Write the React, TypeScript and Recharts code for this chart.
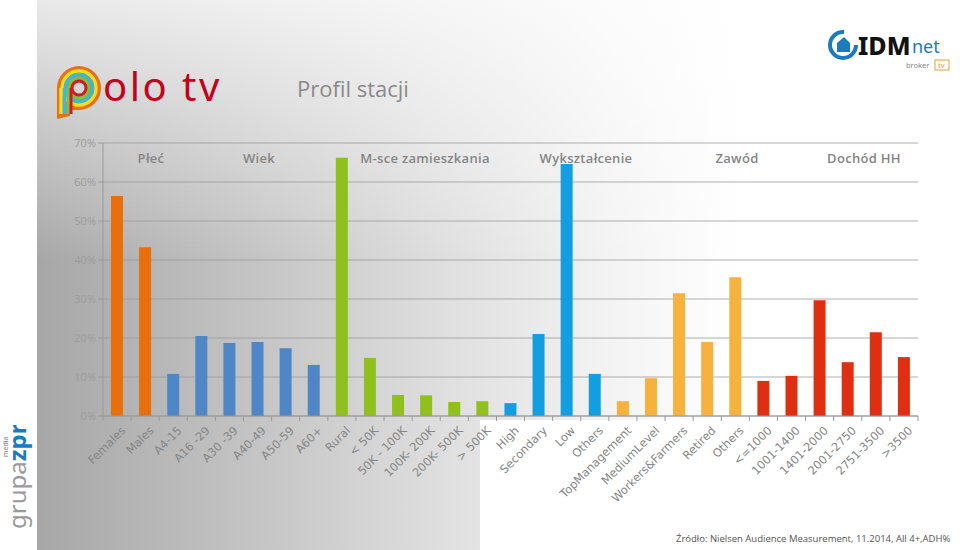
import React from "react";
import { BarChart, Bar, XAxis, YAxis, CartesianGrid, Cell } from "recharts";

// categories along the axis, in order
const categories = [
  "Females", "Males",
  "A4-15", "A16 -29", "A30 -39", "A40-49", "A50-59", "A60+",
  "Rural", "< 50K", "50K - 100K", "100K- 200K", "200K- 500K", "> 500K",
  "High", "Secondary", "Low", "Others",
  "TopManagement", "MediumLevel", "Workers&Farmers", "Retired", "Others",
  "<=1000", "1001-1400", "1401-2000", "2001-2750", "2751-3500", ">3500",
];

// share of audience, %
const values = [
  56.4, 43.3,
  10.8, 20.5, 18.7, 19.0, 17.4, 13.1,
  66.2, 14.9, 5.4, 5.3, 3.6, 3.8,
  3.3, 21.0, 64.6, 10.8,
  3.8, 9.7, 31.5, 19.0, 35.6,
  9.0, 10.3, 29.7, 13.8, 21.5, 15.1,
];

// which group each category belongs to
const groupOf = [
  0, 0,
  1, 1, 1, 1, 1, 1,
  2, 2, 2, 2, 2, 2,
  3, 3, 3, 3,
  4, 4, 4, 4, 4,
  5, 5, 5, 5, 5, 5,
];

const groupNames = ["Płeć", "Wiek", "M-sce zamieszkania", "Wykształcenie", "Zawód", "Dochód HH"];
const groupColors = ["#e8700c", "#4f86c6", "#8fc01e", "#129fe2", "#f6b23c", "#e02f10"];
const groupLabelX = [151, 259, 425, 586, 737, 864];

const yTicks = [0, 10, 20, 30, 40, 50, 60, 70];

const data = categories.map((name, i) => ({ name, value: values[i], group: groupOf[i] }));

const FONT = "'Open Sans', 'DejaVu Sans', sans-serif";
const TICK_FONT = "'DejaVu Sans', sans-serif";
const STEP = 815 / categories.length;

function CategoryTick(props: any) {
  const { x, y, payload, index } = props;
  const axisY = y - 8;
  return (
    <g>
      <line x1={x - STEP / 2} x2={x - STEP / 2} y1={axisY} y2={axisY + 5} stroke="#9a9a9a" />
      {index === categories.length - 1 && (
        <line x1={x + STEP / 2} x2={x + STEP / 2} y1={axisY} y2={axisY + 5} stroke="#9a9a9a" />
      )}
      <text
        x={0}
        y={0}
        transform={`translate(${x + 3},${y + 1}) rotate(-45)`}
        textAnchor="end"
        dominantBaseline="hanging"
        fontSize={11.5}
        fontFamily={TICK_FONT}
        fill="#868686"
      >
        {payload.value}
      </text>
    </g>
  );
}

export default function App() {
  return (
    <div
      style={{
        position: "fixed",
        left: 0,
        top: 0,
        width: 960,
        height: 550,
        background: "#fff",
        overflow: "hidden",
        fontFamily: FONT,
      }}
    >
      {/* grey panel */}
      <div
        style={{
          position: "absolute",
          left: 37,
          top: 0,
          width: 923,
          height: 550,
          background:
            "linear-gradient(90deg, #a7a7a7 0%, #c2c2c2 22%, #dcdcdc 42%, #f3f3f3 62%, #ffffff 76%)",
        }}
      />
      <div
        style={{
          position: "absolute",
          left: 37,
          top: 0,
          width: 923,
          height: 260,
          background: "linear-gradient(180deg, rgba(255,255,255,0.75) 0%, rgba(255,255,255,0) 100%)",
        }}
      />
      <div style={{ position: "absolute", left: 480, top: 420, width: 480, height: 130, background: "#fff" }} />

      {/* polo tv logo */}
      <svg style={{ position: "absolute", left: 55, top: 54 }} width={200} height={72}>
        <g transform="translate(0,10)">
          <path d="M2 55 L2 24 A22 22 0 1 1 24 46 L15 46 L15 52 Z" fill="#e8701a" />
          <circle cx={24} cy={24} r={17} fill="none" stroke="#f2dd1e" strokeWidth={3.5} />
          <circle cx={24} cy={24} r={13.5} fill="none" stroke="#3cb8d8" strokeWidth={3.5} />
          <circle cx={24} cy={24} r={10} fill="none" stroke="#7cc242" strokeWidth={3} />
          <circle cx={24} cy={24} r={7} fill="#d6d6d6" stroke="#d01a2a" strokeWidth={3} />
          <path d="M6 50 L6 24" stroke="#f2dd1e" strokeWidth={3.5} />
          <path d="M9.5 50 L9.5 24" stroke="#3cb8d8" strokeWidth={3.5} />
          <path d="M13 50 L13 24" stroke="#7cc242" strokeWidth={3} />
          <path d="M16 50 L16 24" stroke="#d01a2a" strokeWidth={3} />
          <text x={48} y={37} fontSize={40} fontFamily="'Noto Sans', sans-serif" fill="#c4001c" letterSpacing={2.5}>
            olo tv
          </text>
        </g>
      </svg>
      <div style={{ position: "absolute", left: 297, top: 73, fontSize: 22, color: "#8a8a8a" }}>Profil stacji</div>

      {/* IDMnet logo */}
      <svg style={{ position: "absolute", left: 826, top: 26 }} width={132} height={48}>
        <circle cx={17} cy={19} r={13} fill="none" stroke="#1a7bbf" strokeWidth={4} strokeDasharray="62 20" />
        <path d="M11 26 L11 17 L18 11 L24 17 L24 26 Z" fill="#1a7bbf" />
        <text x={32} y={29} fontSize={25} fontWeight={800} fontFamily="'Noto Sans', sans-serif" fill="#111">
          IDM
        </text>
        <text x={86} y={27} fontSize={18} fontFamily="'Noto Sans', sans-serif" fill="#1a7bbf">
          net
        </text>
        <text x={80} y={42} fontSize={7.5} fontFamily="'Noto Sans', sans-serif" fill="#888">
          broker
        </text>
        <rect x={109} y={34} width={14} height={10} fill="none" stroke="#e8a030" />
        <text x={112} y={42} fontSize={7.5} fontFamily="'Noto Sans', sans-serif" fill="#e8a030">
          tv
        </text>
      </svg>

      {/* grupa zpr media */}
      <svg style={{ position: "absolute", left: 0, top: 425 }} width={36} height={110}>
        <g transform="translate(26,104) rotate(-90)">
          <text x={0} y={0} fontSize={24} fontFamily="'Noto Sans', sans-serif" fill="#9a9a9a">
            grupa
            <tspan fill="#1a7bbf" fontWeight={700}>zpr</tspan>
          </text>
          <text x={72} y={-18} fontSize={7} fill="#777">media</text>
        </g>
      </svg>

      {/* chart */}
      <div style={{ position: "absolute", left: 0, top: 0 }}>
        <BarChart
          width={960}
          height={550}
          data={data}
          margin={{ top: 143, right: 42, left: 0, bottom: 0 }}
          barSize={12}
        >
          <CartesianGrid vertical={false} stroke="#9c9c9c" strokeOpacity={0.8} />
          <XAxis
            dataKey="name"
            interval={0}
            height={134}
            tick={<CategoryTick />}
            tickLine={false}
            axisLine={{ stroke: "#9a9a9a" }}
          />
          <YAxis
            width={103}
            domain={[0, 70]}
            ticks={yTicks}
            tickFormatter={(v: number) => `${v}%`}
            tick={{ fontSize: 11, fill: "#9c9c9c", fontFamily: FONT }}
            tickSize={5}
            tickLine={{ stroke: "#9a9a9a" }}
            axisLine={{ stroke: "#9a9a9a" }}
          />
          <Bar dataKey="value" isAnimationActive={false}>
            {data.map((d, i) => (
              <Cell key={i} fill={groupColors[d.group]} />
            ))}
          </Bar>
        </BarChart>
      </div>

      {/* group headers */}
      {groupNames.map((g, i) => (
        <div
          key={g}
          style={{
            position: "absolute",
            left: groupLabelX[i],
            top: 149,
            transform: "translateX(-50%)",
            fontSize: 13,
            fontWeight: 600,
            color: "#858585",
            whiteSpace: "nowrap",
            letterSpacing: 0.3,
          }}
        >
          {g}
        </div>
      ))}

      <div
        style={{
          position: "absolute",
          left: 676,
          top: 532,
          fontSize: 9.5,
          color: "#555",
          whiteSpace: "nowrap",
        }}
      >
        Źródło: Nielsen Audience Measurement, 11.2014, All 4+,ADH%
      </div>
    </div>
  );
}
